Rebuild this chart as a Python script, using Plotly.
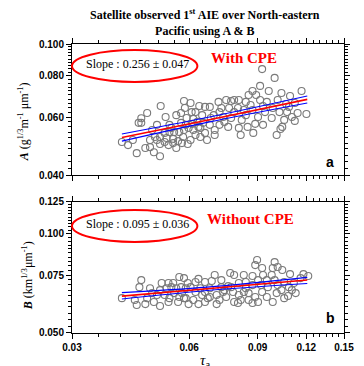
import plotly.graph_objects as go
import math

# ---------------- data ----------------
# Panel a: A vs tau_a (with CPE)
a_tau = [0.0403,0.0440,0.0445,0.0452,0.0452,0.0468,0.0463,0.0476,0.0487,0.0505,
         0.0507,0.0476,0.0490,0.0496,0.0505,0.0505,0.0519,0.0519,0.0522,0.0531,
         0.0534,0.0534,0.0546,0.0546,0.0549,0.0556,0.0562,0.0566,0.0572,0.0575,
         0.0579,0.0582,0.0582,0.0585,0.0588,0.0591,0.0595,0.0598,0.0605,0.0605,
         0.0612,0.0615,0.0615,0.0623,0.0623,0.0630,0.0634,0.0637,0.0641,0.0648,
         0.0652,0.0659,0.0659,0.0667,0.0678,0.0682,0.0694,0.0698,0.0698,0.0714,
         0.0718,0.0726,0.0734,0.0739,0.0756,0.0760,0.0769,0.0769,0.0783,0.0801,
         0.0805,0.0805,0.0819,0.0839,0.0839,0.0848,0.0853,0.0863,0.0873,0.0873,
         0.0877,0.0887,0.0902,0.0913,0.0913,0.0924,0.0929,0.0940,0.0950,0.0961,
         0.0978,0.0984,0.0995,0.1007,0.1024,0.1030,0.1036,0.1041,0.1053,0.1065,
         0.1083,0.1090,0.1102,0.1121,0.1121,0.1140,0.1167,0.1201,0.0572,0.0678,
         0.0783,0.0829,0.0718,0.0747,0.0641,0.0540,0.0525,0.0609,0.0892,0.1013,
         0.1071,0.0929,0.0814,0.0556,0.0430,0.0482,0.0496,0.0418]
a_val = [0.0504,0.0466,0.0576,0.0595,0.0576,0.0617,0.0483,0.0486,0.0469,0.0456,
         0.0648,0.0511,0.0522,0.0511,0.0497,0.0522,0.0504,0.0537,0.0600,0.0493,
         0.0540,0.0568,0.0500,0.0515,0.0540,0.0608,0.0507,0.0540,0.0576,0.0500,
         0.0522,0.0548,0.0671,0.0639,0.0568,0.0596,0.0497,0.0556,0.0662,0.0511,
         0.0572,0.0592,0.0548,0.0621,0.0529,0.0580,0.0560,0.0648,0.0522,0.0608,
         0.0576,0.0644,0.0537,0.0511,0.0644,0.0596,0.0608,0.0548,0.0529,0.0667,
         0.0568,0.0639,0.0600,0.0580,0.0560,0.0639,0.0671,0.0596,0.0621,0.0639,
         0.0676,0.0556,0.0588,0.0667,0.0608,0.0560,0.0700,0.0653,0.0720,0.0630,
         0.0537,0.0572,0.0600,0.0676,0.0746,0.0839,0.0648,0.0621,0.0667,0.0720,
         0.0596,0.0639,0.0789,0.0529,0.0621,0.0552,0.0710,0.0560,0.0588,0.0657,
         0.0644,0.0695,0.0600,0.0662,0.0584,0.0617,0.0720,0.0613,0.0617,0.0568,
         0.0676,0.0630,0.0621,0.0676,0.0556,0.0556,0.0518,0.0621,0.0700,0.0676,
         0.0621,0.0568,0.0529,0.0483,0.0511,0.0548,0.0568,0.0493]

# Panel b: B vs tau_a (without CPE)
b_tau = [0.0403,0.0452,0.0447,0.0440,0.0435,0.0463,0.0476,0.0487,0.0505,0.0510,
         0.0531,0.0546,0.0566,0.0582,0.0595,0.0623,0.0634,0.0659,0.0598,0.0615,
         0.0634,0.0648,0.0519,0.0534,0.0549,0.0566,0.0582,0.0496,0.0505,0.0525,
         0.0540,0.0556,0.0572,0.0588,0.0605,0.0659,0.0670,0.0531,0.0562,0.0588,
         0.0468,0.0482,0.0897,0.0887,0.0924,0.0995,0.1013,0.0984,0.1041,0.1090,
         0.1180,0.1214,0.1160,0.1115,0.1083,0.1127,0.1053,0.1036,0.0984,0.1007,
         0.0956,0.0950,0.0924,0.0902,0.0887,0.0873,0.0853,0.0839,0.0805,0.0801,
         0.0814,0.0778,0.0769,0.0765,0.0783,0.0829,0.0873,0.0726,0.0698,0.0686,
         0.0734,0.0706,0.0718,0.0678,0.0706,0.0747,0.0902,0.0950,0.0995,0.1053,
         0.0873,0.0839,0.0805,0.0756,0.0726,0.0929,0.0978,0.0641,0.0678,0.0829,
         0.0918,0.1013,0.1102,0.1077,0.0783,0.0739,0.0853,0.0659,0.0623,0.0575]
b_val = [0.0638,0.0724,0.0689,0.0608,0.0630,0.0612,0.0684,0.0621,0.0604,0.0709,
         0.0709,0.0709,0.0740,0.0734,0.0709,0.0714,0.0730,0.0714,0.0612,0.0630,
         0.0612,0.0652,0.0652,0.0638,0.0661,0.0643,0.0638,0.0652,0.0675,0.0684,
         0.0689,0.0684,0.0689,0.0684,0.0689,0.0666,0.0638,0.0621,0.0621,0.0638,
         0.0638,0.0661,0.0833,0.0804,0.0788,0.0821,0.0793,0.0788,0.0777,0.0755,
         0.0755,0.0745,0.0734,0.0709,0.0689,0.0661,0.0638,0.0675,0.0621,0.0661,
         0.0689,0.0643,0.0666,0.0621,0.0643,0.0617,0.0661,0.0684,0.0652,0.0617,
         0.0630,0.0666,0.0689,0.0761,0.0750,0.0750,0.0745,0.0724,0.0750,0.0719,
         0.0666,0.0652,0.0630,0.0643,0.0612,0.0643,0.0724,0.0724,0.0724,0.0714,
         0.0699,0.0714,0.0709,0.0694,0.0689,0.0750,0.0750,0.0684,0.0684,0.0666,
         0.0699,0.0699,0.0675,0.0648,0.0621,0.0675,0.0630,0.0621,0.0666,0.0661]

# Fitted lines (red) and confidence bounds (blue)
fit_tau = [0.0403, 0.0667, 0.1207]
a_fit = [0.0520, 0.0587, 0.0679]
a_upper = [0.0533, 0.0598, 0.0695]
a_lower = [0.0507, 0.0578, 0.0662]
b_fit = [0.0647, 0.0681, 0.0724]
b_upper = [0.0663, 0.0689, 0.0738]
b_lower = [0.0634, 0.0673, 0.0707]

x_ticks = [0.03, 0.06, 0.09, 0.12, 0.15]
x_ticklabels = ["0.03", "0.06", "0.09", "0.12", "0.15"]
a_ticks = [0.04, 0.06, 0.08, 0.10]
a_ticklabels = ["0.040", "0.060", "0.080", "0.100"]
b_ticks = [0.050, 0.075, 0.100, 0.125]
b_ticklabels = ["0.050", "0.075", "0.100", "0.125"]

x_minor = [round(0.03 + 0.005 * i, 4) for i in range(25)]
a_minor = [round(0.04 + 0.002 * i, 4) for i in range(31)]
b_minor = [round(0.05 + 0.0025 * i, 5) for i in range(31)]

# ---------------- figure ----------------
fig = go.Figure()

marker = dict(symbol="circle-open", size=7, color="#7a7a7a", line=dict(width=1.1))

def add_panel(xs, ys, fit, up, lo, xa, ya):
    fig.add_trace(go.Scatter(x=xs, y=ys, mode="markers", marker=marker,
                             xaxis=xa, yaxis=ya, showlegend=False, hoverinfo="skip"))
    for yy, col, w in [(up, "#0000ff", 1.1), (lo, "#0000ff", 1.1), (fit, "#ff0000", 1.6)]:
        fig.add_trace(go.Scatter(x=fit_tau, y=yy, mode="lines",
                                 line=dict(color=col, width=w, shape="spline"),
                                 xaxis=xa, yaxis=ya, showlegend=False, hoverinfo="skip"))

add_panel(a_tau, a_val, a_fit, a_upper, a_lower, "x", "y")
add_panel(b_tau, b_val, b_fit, b_upper, b_lower, "x2", "y2")

tickfont = dict(family="Arial, Liberation Sans", size=10, color="black", weight="bold")

def xaxis_cfg(show_labels, anchor):
    return dict(type="log", range=[-1.5229, -0.8239], tickvals=x_ticks,
                ticktext=x_ticklabels, showticklabels=show_labels,
                ticks="outside", ticklen=5, tickwidth=1, tickcolor="black",
                minor=dict(tickvals=x_minor, ticks="outside", ticklen=3, tickcolor="black"),
                showline=True, linecolor="black", linewidth=1, mirror="allticks",
                showgrid=False, zeroline=False, tickfont=tickfont, anchor=anchor)

def yaxis_cfg(rng, tv, tt, minor_vals, domain, anchor):
    return dict(type="log", range=rng, tickvals=tv, ticktext=tt, domain=domain,
                ticks="outside", ticklen=5, tickwidth=1, tickcolor="black",
                minor=dict(tickvals=minor_vals, ticks="outside", ticklen=3, tickcolor="black"),
                showline=True, linecolor="black", linewidth=1, mirror="allticks",
                showgrid=False, zeroline=False, tickfont=tickfont, anchor=anchor)

fig.update_layout(
    width=364, height=366,
    margin=dict(l=72, r=10, t=44, b=33),
    paper_bgcolor="white", plot_bgcolor="white",
    xaxis=xaxis_cfg(False, "y"),
    yaxis=yaxis_cfg([math.log10(0.04), math.log10(0.1)], a_ticks, a_ticklabels, a_minor, [0.5467, 1.0], "x"),
    xaxis2=xaxis_cfg(True, "y2"),
    yaxis2=yaxis_cfg([math.log10(0.05), math.log10(0.125)], b_ticks, b_ticklabels, b_minor, [0.0, 0.4533], "x2"),
)

serif = "Times New Roman, Liberation Serif, serif"

def A(text, x, y, font, **kw):
    d = dict(text=text, x=x, y=y, xref="paper", yref="paper", showarrow=False,
             xanchor="center", yanchor="middle", font=font)
    d.update(kw)
    return d

ann = [
    A("Satellite observed 1<sup>st</sup> AIE over North-eastern<br>Pacific using A & B", 0.49, 1.076,
      dict(family=serif, size=12, color="black", weight="bold")),
    A("<b><i>A</i></b> (g<sup>1/3</sup>m<sup>-1</sup> μm<sup>-1</sup>)", -0.177, 0.732,
      dict(family=serif, size=12, color="black"), textangle=-90),
    A("<b><i>B</i></b> (km<sup>1/3</sup>μm<sup>-1</sup>)", -0.165, 0.197,
      dict(family=serif, size=12, color="black"), textangle=-90),
    A("<i>τ</i><sub>a</sub>", 0.488, -0.058, dict(family=serif, size=15, color="black"), yanchor="top"),
    A("Slope : 0.256 ± 0.047", 0.239, 0.930, dict(family=serif, size=12, color="black")),
    A("Slope : 0.095 ± 0.036", 0.239, 0.376, dict(family=serif, size=12, color="black")),
    A("With CPE", 0.631, 0.952, dict(family=serif, size=15, color="#ff0000", weight="bold")),
    A("Without CPE", 0.656, 0.394, dict(family=serif, size=15, color="#ff0000", weight="bold")),
    A("a", 0.950, 0.592, dict(family="Arial, Liberation Sans", size=14, color="black", weight="bold")),
    A("b", 0.950, 0.052, dict(family="Arial, Liberation Sans", size=14, color="black", weight="bold")),
]
fig.update_layout(annotations=ann)

fig.update_layout(shapes=[
    dict(type="circle", xref="x domain", yref="y domain", x0=0.0, x1=0.461, y0=0.710, y1=0.954,
         line=dict(color="#ff0000", width=2)),
    dict(type="circle", xref="x2 domain", yref="y2 domain", x0=0.0, x1=0.461, y0=0.695, y1=0.939,
         line=dict(color="#ff0000", width=2)),
])

fig.write_html("out.html", config={"displayModeBar": False},
               post_script="document.body.style.margin='0';")
